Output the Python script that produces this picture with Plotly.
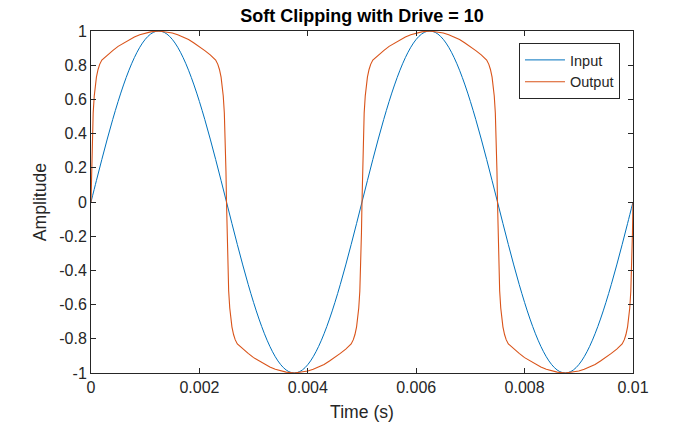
import plotly.graph_objects as go

# Input sine, sampled every 0.0001 s
t_in = [round(i * 0.0001, 4) for i in range(101)]
y_in = [
    0, 0.1253, 0.2487, 0.3681, 0.4818, 0.5878, 0.6845, 0.7705, 0.8443, 0.9048,
    0.9511, 0.9823, 0.998, 0.998, 0.9823, 0.9511, 0.9048, 0.8443, 0.7705, 0.6845,
    0.5878, 0.4818, 0.3681, 0.2487, 0.1253, 0, -0.1253, -0.2487, -0.3681, -0.4818,
    -0.5878, -0.6845, -0.7705, -0.8443, -0.9048, -0.9511, -0.9823, -0.998, -0.998, -0.9823,
    -0.9511, -0.9048, -0.8443, -0.7705, -0.6845, -0.5878, -0.4818, -0.3681, -0.2487, -0.1253,
    0, 0.1253, 0.2487, 0.3681, 0.4818, 0.5878, 0.6845, 0.7705, 0.8443, 0.9048,
    0.9511, 0.9823, 0.998, 0.998, 0.9823, 0.9511, 0.9048, 0.8443, 0.7705, 0.6845,
    0.5878, 0.4818, 0.3681, 0.2487, 0.1253, 0, -0.1253, -0.2487, -0.3681, -0.4818,
    -0.5878, -0.6845, -0.7705, -0.8443, -0.9048, -0.9511, -0.9823, -0.998, -0.998, -0.9823,
    -0.9511, -0.9048, -0.8443, -0.7705, -0.6845, -0.5878, -0.4818, -0.3681, -0.2487, -0.1253,
    0,
]

# Output (soft clipped)
t_out = [
    0,
    0.00001, 0.00002, 0.00004, 0.00006, 0.00008, 0.0001, 0.00013, 0.00016, 0.0002,
    0.0003, 0.0004, 0.0005, 0.0006, 0.0007, 0.0008, 0.0009, 0.001, 0.0011, 0.00125,
    0.0014, 0.0015, 0.0016, 0.0017, 0.0018, 0.0019, 0.002, 0.0021, 0.0022, 0.0023,
    0.00234, 0.00237, 0.0024, 0.00242, 0.00244, 0.00246, 0.00248, 0.00249, 0.0025,
    0.00251, 0.00252, 0.00254, 0.00256, 0.00258, 0.0026, 0.00263, 0.00266, 0.0027,
    0.0028, 0.0029, 0.003, 0.0031, 0.0032, 0.0033, 0.0034, 0.0035, 0.0036, 0.00375,
    0.0039, 0.004, 0.0041, 0.0042, 0.0043, 0.0044, 0.0045, 0.0046, 0.0047, 0.0048,
    0.00484, 0.00487, 0.0049, 0.00492, 0.00494, 0.00496, 0.00498, 0.00499, 0.005,
    0.00501, 0.00502, 0.00504, 0.00506, 0.00508, 0.0051, 0.00513, 0.00516, 0.0052,
    0.0053, 0.0054, 0.0055, 0.0056, 0.0057, 0.0058, 0.0059, 0.006, 0.0061, 0.00625,
    0.0064, 0.0065, 0.0066, 0.0067, 0.0068, 0.0069, 0.007, 0.0071, 0.0072, 0.0073,
    0.00734, 0.00737, 0.0074, 0.00742, 0.00744, 0.00746, 0.00748, 0.00749, 0.0075,
    0.00751, 0.00752, 0.00754, 0.00756, 0.00758, 0.0076, 0.00763, 0.00766, 0.0077,
    0.0078, 0.0079, 0.008, 0.0081, 0.0082, 0.0083, 0.0084, 0.0085, 0.0086, 0.00875,
    0.0089, 0.009, 0.0091, 0.0092, 0.0093, 0.0094, 0.0095, 0.0096, 0.0097, 0.0098,
    0.00984, 0.00987, 0.0099, 0.00992, 0.00994, 0.00996, 0.00998, 0.00999, 0.01,
]
y_out = [
    0,
    0.18, 0.34, 0.52, 0.62, 0.68, 0.73, 0.775, 0.805, 0.83,
    0.86, 0.885, 0.91, 0.93, 0.95, 0.965, 0.978, 0.988, 0.995, 1.0,
    0.995, 0.988, 0.978, 0.965, 0.95, 0.93, 0.91, 0.885, 0.86, 0.83,
    0.805, 0.775, 0.73, 0.68, 0.62, 0.52, 0.34, 0.18, 0,
    -0.18, -0.34, -0.52, -0.62, -0.68, -0.73, -0.775, -0.805, -0.83,
    -0.86, -0.885, -0.91, -0.93, -0.95, -0.965, -0.978, -0.988, -0.995, -1.0,
    -0.995, -0.988, -0.978, -0.965, -0.95, -0.93, -0.91, -0.885, -0.86, -0.83,
    -0.805, -0.775, -0.73, -0.68, -0.62, -0.52, -0.34, -0.18, 0,
    0.18, 0.34, 0.52, 0.62, 0.68, 0.73, 0.775, 0.805, 0.83,
    0.86, 0.885, 0.91, 0.93, 0.95, 0.965, 0.978, 0.988, 0.995, 1.0,
    0.995, 0.988, 0.978, 0.965, 0.95, 0.93, 0.91, 0.885, 0.86, 0.83,
    0.805, 0.775, 0.73, 0.68, 0.62, 0.52, 0.34, 0.18, 0,
    -0.18, -0.34, -0.52, -0.62, -0.68, -0.73, -0.775, -0.805, -0.83,
    -0.86, -0.885, -0.91, -0.93, -0.95, -0.965, -0.978, -0.988, -0.995, -1.0,
    -0.995, -0.988, -0.978, -0.965, -0.95, -0.93, -0.91, -0.885, -0.86, -0.83,
    -0.805, -0.775, -0.73, -0.68, -0.62, -0.52, -0.34, -0.18, 0,
]

x_ticks = [0, 0.002, 0.004, 0.006, 0.008, 0.01]
x_labels = ["0", "0.002", "0.004", "0.006", "0.008", "0.01"]
y_ticks = [-1, -0.8, -0.6, -0.4, -0.2, 0, 0.2, 0.4, 0.6, 0.8, 1]
y_labels = ["-1", "-0.8", "-0.6", "-0.4", "-0.2", "0", "0.2", "0.4", "0.6", "0.8", "1"]

FONT = "Liberation Sans, Arial, Helvetica, sans-serif"
AX = "#262626"

fig = go.Figure()
fig.add_trace(go.Scatter(x=t_in, y=y_in, mode="lines", name="Input",
                         line=dict(color="#0072BD", width=1, shape="spline")))
fig.add_trace(go.Scatter(x=t_out, y=y_out, mode="lines", name="Output",
                         line=dict(color="#D95319", width=1.1)))

axis_common = dict(showgrid=False, zeroline=False, showline=True, linecolor=AX,
                   linewidth=1, mirror="ticks", ticks="inside", ticklen=5,
                   tickcolor=AX, automargin=False,
                   tickfont=dict(family=FONT, size=16, color=AX))

fig.update_layout(
    width=700, height=422,
    margin=dict(l=91, r=67, t=31, b=49),
    paper_bgcolor="white", plot_bgcolor="white",
    font=dict(family=FONT, color=AX),
    title=dict(text="<b>Soft Clipping with Drive = 10</b>", x=0.5, xref="paper",
               xanchor="center", y=1 - 16 / 422, yref="container", yanchor="middle",
               font=dict(family=FONT, size=18, color="black")),
    xaxis=dict(range=[0, 0.01], tickvals=x_ticks, ticktext=x_labels,
               title=dict(text="Time (s)", font=dict(family=FONT, size=17.6, color=AX), standoff=10),
               **axis_common),
    yaxis=dict(range=[-1, 1], tickvals=y_ticks, ticktext=y_labels,
               title=dict(text="Amplitude", font=dict(family=FONT, size=17.6, color=AX), standoff=8),
               **axis_common),
    legend=dict(x=0.976, y=0.965, xanchor="right", yanchor="top",
                bgcolor="white", bordercolor=AX, borderwidth=1,
                font=dict(family=FONT, size=14.5, color=AX),
                itemwidth=40, tracegroupgap=0),
    showlegend=True,
)

fig.write_html("out.html", config={"displayModeBar": False},
               post_script="document.body.style.margin='0';")
